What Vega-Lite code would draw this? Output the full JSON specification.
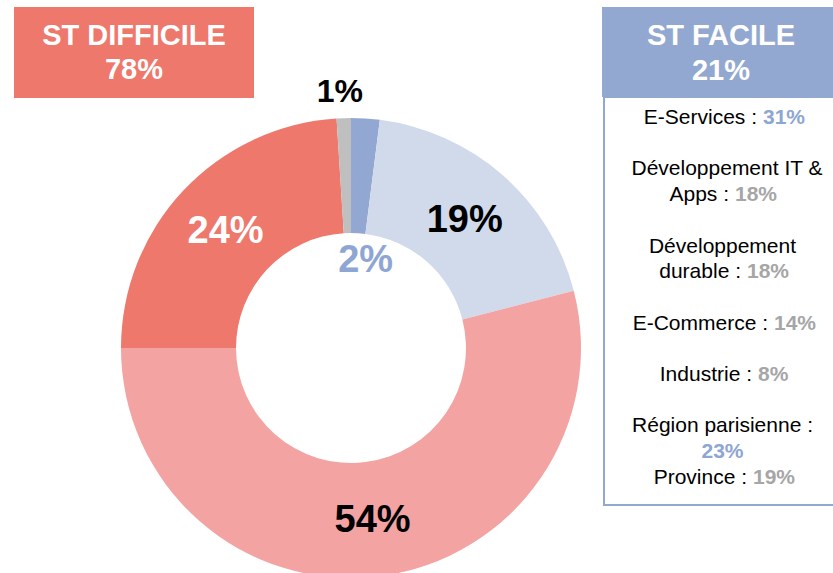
{
  "$schema": "https://vega.github.io/schema/vega-lite/v6.json",
  "width": 833,
  "height": 573,
  "padding": 0,
  "autosize": {"type": "none"},
  "background": "white",
  "config": {"view": {"stroke": null}, "font": "Liberation Sans"},
  "datasets": {
    "donut": [
      {"cat": "Très facile", "value": 2, "order": 1, "label": "2%"},
      {"cat": "Plutôt facile", "value": 19, "order": 2, "label": "19%"},
      {"cat": "Plutôt difficile", "value": 54, "order": 3, "label": "54%"},
      {"cat": "Très difficile", "value": 24, "order": 4, "label": "24%"},
      {"cat": "Sans réponse", "value": 1, "order": 5, "label": "1%"}
    ],
    "facile": [
      {"line": 0, "label": "E-Services :", "pct": "31%", "hl": true, "at": 757},
      {"line": 2, "label": "Développement IT &", "pct": "", "hl": false, "at": 727},
      {"line": 3, "label": "Apps :", "pct": "18%", "hl": false, "at": 729},
      {"line": 5, "label": "Développement", "pct": "", "hl": false, "at": 722.5},
      {"line": 6, "label": "durable :", "pct": "18%", "hl": false, "at": 741},
      {"line": 8, "label": "E-Commerce :", "pct": "14%", "hl": false, "at": 768},
      {"line": 10, "label": "Industrie :", "pct": "8%", "hl": false, "at": 752},
      {"line": 12, "label": "Région parisienne :", "pct": "", "hl": false, "at": 722.5},
      {"line": 13, "label": "", "pct": "23%", "hl": true, "at": 722.5},
      {"line": 14, "label": "Province :", "pct": "19%", "hl": false, "at": 747}
    ]
  },
  "resolve": {"scale": {"x": "independent", "y": "independent"}},
  "layer": [
    {
      "data": {"values": [{}]},
      "mark": {"type": "rect", "color": "#ED786B"},
      "encoding": {
        "x": {"datum": 14, "type": "quantitative", "scale": {"domain": [0, 833], "range": [0, 833], "nice": false}, "axis": null},
        "x2": {"datum": 254},
        "y": {"datum": 7, "type": "quantitative", "scale": {"domain": [0, 573], "range": [0, 573], "nice": false}, "axis": null},
        "y2": {"datum": 98}
      }
    },
    {
      "data": {"values": [{}]},
      "mark": {"type": "rect", "color": "#92A8D1"},
      "encoding": {
        "x": {"datum": 602, "type": "quantitative", "scale": {"domain": [0, 833], "range": [0, 833], "nice": false}, "axis": null},
        "x2": {"datum": 840},
        "y": {"datum": 7, "type": "quantitative", "scale": {"domain": [0, 573], "range": [0, 573], "nice": false}, "axis": null},
        "y2": {"datum": 97}
      }
    },
    {
      "data": {"values": [{}]},
      "mark": {"type": "rect", "filled": false, "stroke": "#92A8D1", "strokeWidth": 2},
      "encoding": {
        "x": {"datum": 604, "type": "quantitative", "scale": {"domain": [0, 833], "range": [0, 833], "nice": false}, "axis": null},
        "x2": {"datum": 850},
        "y": {"datum": 97, "type": "quantitative", "scale": {"domain": [0, 573], "range": [0, 573], "nice": false}, "axis": null},
        "y2": {"datum": 505}
      }
    },
    {
      "data": {"values": [{}]},
      "mark": {"type": "text", "color": "white", "fontSize": 29, "fontWeight": "bold", "align": "center", "baseline": "alphabetic", "lineHeight": 34},
      "encoding": {
        "text": {"value": ["ST DIFFICILE", "78%"]},
        "x": {"datum": 134, "type": "quantitative", "scale": {"domain": [0, 833], "range": [0, 833], "nice": false}, "axis": null},
        "y": {"datum": 45, "type": "quantitative", "scale": {"domain": [0, 573], "range": [0, 573], "nice": false}, "axis": null}
      }
    },
    {
      "data": {"values": [{}]},
      "mark": {"type": "text", "color": "white", "fontSize": 29, "fontWeight": "bold", "align": "center", "baseline": "alphabetic", "lineHeight": 35},
      "encoding": {
        "text": {"value": ["ST FACILE", "21%"]},
        "x": {"datum": 721, "type": "quantitative", "scale": {"domain": [0, 833], "range": [0, 833], "nice": false}, "axis": null},
        "y": {"datum": 45, "type": "quantitative", "scale": {"domain": [0, 573], "range": [0, 573], "nice": false}, "axis": null}
      }
    },
    {
      "data": {"name": "donut"},
      "mark": {"type": "arc", "outerRadius": 230, "innerRadius": 115},
      "encoding": {
        "x": {"datum": 351, "type": "quantitative", "scale": {"domain": [0, 833], "range": [0, 833], "nice": false}, "axis": null},
        "y": {"datum": 348, "type": "quantitative", "scale": {"domain": [0, 573], "range": [0, 573], "nice": false}, "axis": null},
        "theta": {"field": "value", "type": "quantitative", "stack": true},
        "order": {"field": "order", "type": "quantitative"},
        "color": {
          "field": "cat", "type": "nominal", "legend": null,
          "scale": {
            "domain": ["Très facile", "Plutôt facile", "Plutôt difficile", "Très difficile", "Sans réponse"],
            "range": ["#92A8D2", "#D0DAEB", "#F4A3A3", "#ED786B", "#BFBFBF"]
          }
        }
      }
    },
    {
      "data": {"name": "donut"},
      "mark": {"type": "text", "radius": 172, "dy": 2, "fontSize": 38, "fontWeight": "bold", "align": "center", "baseline": "middle"},
      "encoding": {
        "x": {"datum": 351, "type": "quantitative", "scale": {"domain": [0, 833], "range": [0, 833], "nice": false}, "axis": null},
        "y": {"datum": 348, "type": "quantitative", "scale": {"domain": [0, 573], "range": [0, 573], "nice": false}, "axis": null},
        "theta": {"field": "value", "type": "quantitative", "stack": true},
        "order": {"field": "order", "type": "quantitative"},
        "text": {"condition": {"test": "indexof(['19%','54%','24%'], datum.label) >= 0", "field": "label"}, "value": ""},
        "color": {"condition": {"test": "datum.label === '24%'", "value": "white"}, "value": "black"}
      }
    },
    {
      "data": {"name": "donut"},
      "mark": {"type": "text", "radius": 89, "dx": 9, "dy": 2, "fontSize": 38, "fontWeight": "bold", "align": "center", "baseline": "middle", "color": "#8EA6D3"},
      "encoding": {
        "x": {"datum": 351, "type": "quantitative", "scale": {"domain": [0, 833], "range": [0, 833], "nice": false}, "axis": null},
        "y": {"datum": 348, "type": "quantitative", "scale": {"domain": [0, 573], "range": [0, 573], "nice": false}, "axis": null},
        "theta": {"field": "value", "type": "quantitative", "stack": true},
        "order": {"field": "order", "type": "quantitative"},
        "text": {"condition": {"test": "datum.label === '2%'", "field": "label"}, "value": ""}
      }
    },
    {
      "data": {"name": "donut"},
      "mark": {"type": "text", "radius": 257, "dx": -3, "dy": 1, "fontSize": 32, "fontWeight": "bold", "align": "center", "baseline": "middle", "color": "black"},
      "encoding": {
        "x": {"datum": 351, "type": "quantitative", "scale": {"domain": [0, 833], "range": [0, 833], "nice": false}, "axis": null},
        "y": {"datum": 348, "type": "quantitative", "scale": {"domain": [0, 573], "range": [0, 573], "nice": false}, "axis": null},
        "theta": {"field": "value", "type": "quantitative", "stack": true},
        "order": {"field": "order", "type": "quantitative"},
        "text": {"condition": {"test": "datum.label === '1%'", "field": "label"}, "value": ""}
      }
    },
    {
      "data": {"name": "facile"},
      "transform": [{"filter": "datum.label !== '' && datum.pct !== ''"}],
      "mark": {"type": "text", "fontSize": 21, "align": "right", "baseline": "alphabetic", "color": "black"},
      "encoding": {
        "x": {"field": "at", "type": "quantitative", "scale": {"domain": [0, 833], "range": [0, 833], "nice": false}, "axis": null},
        "y": {"field": "line", "type": "quantitative", "scale": {"domain": [0, 14], "range": [124, 483.8], "nice": false, "zero": false}, "axis": null},
        "text": {"field": "label"}
      }
    },
    {
      "data": {"name": "facile"},
      "transform": [{"filter": "datum.label !== '' && datum.pct !== ''"}],
      "mark": {"type": "text", "fontSize": 21, "fontWeight": "bold", "align": "left", "baseline": "alphabetic", "dx": 6},
      "encoding": {
        "x": {"field": "at", "type": "quantitative", "scale": {"domain": [0, 833], "range": [0, 833], "nice": false}, "axis": null},
        "y": {"field": "line", "type": "quantitative", "scale": {"domain": [0, 14], "range": [124, 483.8], "nice": false, "zero": false}, "axis": null},
        "text": {"field": "pct"},
        "color": {"condition": {"test": "datum.hl", "value": "#8EA6D3"}, "value": "#A6A6A6"}
      }
    },
    {
      "data": {"name": "facile"},
      "transform": [{"filter": "datum.pct === ''"}],
      "mark": {"type": "text", "fontSize": 21, "align": "center", "baseline": "alphabetic", "color": "black"},
      "encoding": {
        "x": {"field": "at", "type": "quantitative", "scale": {"domain": [0, 833], "range": [0, 833], "nice": false}, "axis": null},
        "y": {"field": "line", "type": "quantitative", "scale": {"domain": [0, 14], "range": [124, 483.8], "nice": false, "zero": false}, "axis": null},
        "text": {"field": "label"}
      }
    },
    {
      "data": {"name": "facile"},
      "transform": [{"filter": "datum.label === ''"}],
      "mark": {"type": "text", "fontSize": 21, "fontWeight": "bold", "align": "center", "baseline": "alphabetic"},
      "encoding": {
        "x": {"field": "at", "type": "quantitative", "scale": {"domain": [0, 833], "range": [0, 833], "nice": false}, "axis": null},
        "y": {"field": "line", "type": "quantitative", "scale": {"domain": [0, 14], "range": [124, 483.8], "nice": false, "zero": false}, "axis": null},
        "text": {"field": "pct"},
        "color": {"condition": {"test": "datum.hl", "value": "#8EA6D3"}, "value": "#A6A6A6"}
      }
    }
  ]
}
